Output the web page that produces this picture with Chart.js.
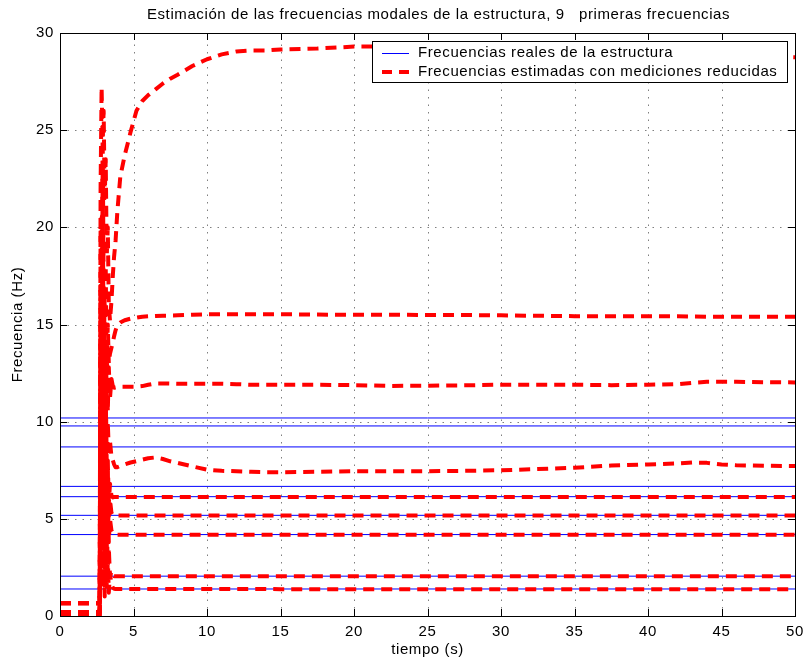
<!DOCTYPE html>
<html>
<head>
<meta charset="utf-8">
<script src="https://cdn.jsdelivr.net/npm/chart.js@4.4.1/dist/chart.umd.min.js"></script>
<style>
html,body{margin:0;padding:0;background:#ffffff;}
#wrap{width:811px;height:664px;}
</style>
</head>
<body>
<div id="wrap"><canvas id="grafico" width="811" height="664"></canvas></div>
<script>
// ---------- DATA ----------
const tiempo = [0, 2.7, 2.76, 2.83, 2.9, 2.97, 3.04, 3.11, 3.18, 3.25, 3.32, 3.4, 3.5, 3.6, 3.68, 3.78,
  3.9, 4.1, 4.4, 4.8, 5.2, 5.6, 6, 6.5, 7, 7.5, 8, 9, 10, 11, 12, 13, 14, 15, 17.5, 20, 22.5, 25, 27.5, 30, 32.5, 35, 37.5, 40, 42, 43, 44, 45, 46, 48, 50];

const estimada1 = [0.65, 0.65, 6.0, 2.0, 9.0, 3.5, 1.0, 5.0, 1.5, 3.0, 1.2, 2.2, 1.6, 1.45, 1.4, 1.39,
  1.39, 1.39, 1.39, 1.39, 1.39, 1.39, 1.39, 1.39, 1.39, 1.39, 1.39, 1.39, 1.39, 1.39, 1.39, 1.39, 1.39, 1.38, 1.38, 1.38, 1.38, 1.38, 1.38, 1.38, 1.38, 1.38, 1.38, 1.38, 1.38, 1.38, 1.38, 1.38, 1.38, 1.38, 1.38];
const estimada2 = [0.65, 0.65, 3.0, 11.0, 5.0, 1.5, 8.0, 2.5, 6.0, 1.8, 3.5, 2.0, 2.3, 2.1, 2.05, 2.05,
  2.05, 2.05, 2.05, 2.05, 2.05, 2.05, 2.05, 2.05, 2.05, 2.05, 2.05, 2.05, 2.05, 2.05, 2.05, 2.05, 2.05, 2.05, 2.04, 2.04, 2.04, 2.04, 2.04, 2.04, 2.04, 2.04, 2.04, 2.04, 2.04, 2.04, 2.04, 2.04, 2.04, 2.04, 2.04];
const estimada3 = [0.2, 0.2, 10.0, 4.0, 14.0, 7.0, 2.5, 9.0, 3.5, 6.5, 3.8, 5.0, 4.4, 4.25, 4.2, 4.18,
  4.18, 4.18, 4.18, 4.18, 4.18, 4.18, 4.18, 4.18, 4.18, 4.18, 4.18, 4.18, 4.18, 4.18, 4.18, 4.18, 4.18, 4.18, 4.18, 4.18, 4.18, 4.18, 4.18, 4.18, 4.18, 4.18, 4.18, 4.18, 4.18, 4.18, 4.18, 4.18, 4.18, 4.18, 4.18];
const estimada4 = [0.2, 0.2, 8.0, 16.5, 6.0, 12.0, 4.0, 10.5, 4.5, 7.5, 5.0, 6.0, 5.3, 5.2, 5.15, 5.17,
  5.17, 5.17, 5.17, 5.17, 5.17, 5.17, 5.17, 5.17, 5.17, 5.17, 5.17, 5.17, 5.17, 5.17, 5.17, 5.17, 5.17, 5.17, 5.17, 5.17, 5.17, 5.17, 5.17, 5.17, 5.17, 5.17, 5.17, 5.17, 5.17, 5.17, 5.17, 5.17, 5.17, 5.17, 5.17];
const estimada5 = [0.1, 0.1, 14.0, 7.0, 18.5, 10.0, 5.0, 12.0, 5.5, 8.0, 5.8, 6.8, 6.2, 6.1, 6.12, 6.12,
  6.12, 6.12, 6.12, 6.12, 6.12, 6.12, 6.12, 6.12, 6.12, 6.12, 6.12, 6.12, 6.12, 6.12, 6.12, 6.12, 6.12, 6.12, 6.12, 6.12, 6.12, 6.12, 6.12, 6.12, 6.12, 6.12, 6.12, 6.12, 6.12, 6.12, 6.12, 6.12, 6.12, 6.12, 6.12];
const estimada6 = [0.0, 0.0, 12.0, 20.5, 11.0, 15.0, 7.5, 13.0, 6.5, 10.0, 8.5, 9.0, 8.2, 8.0, 7.8, 7.65,
  7.66, 7.72, 7.8, 7.9, 7.97, 8.05, 8.12, 8.16, 8.08, 7.96, 7.88, 7.7, 7.53, 7.47, 7.45, 7.42, 7.4, 7.4, 7.42, 7.45, 7.45, 7.45, 7.47, 7.5, 7.56, 7.63, 7.74, 7.8, 7.85, 7.9, 7.88, 7.8, 7.76, 7.73, 7.72];
const estimada7 = [0.2, 0.2, 17.0, 10.0, 23.0, 13.0, 16.5, 9.5, 14.0, 10.5, 12.8, 11.2, 12.2, 11.8, 11.75, 11.76,
  11.78, 11.8, 11.8, 11.8, 11.8, 11.83, 11.9, 11.97, 11.97, 11.96, 11.95, 11.95, 11.95, 11.95, 11.93, 11.9, 11.9, 11.9, 11.9, 11.88, 11.84, 11.85, 11.87, 11.9, 11.9, 11.9, 11.88, 11.9, 11.93, 12.0, 12.05, 12.05, 12.05, 12.03, 12.02];
const estimada8 = [0.0, 0.0, 20.0, 13.0, 25.0, 17.0, 12.0, 18.0, 12.5, 15.0, 13.0, 13.5, 13.8, 14.1, 14.4, 14.7,
  14.95, 15.1, 15.22, 15.3, 15.35, 15.4, 15.42, 15.44, 15.45, 15.46, 15.47, 15.5, 15.52, 15.53, 15.53, 15.53, 15.53, 15.53, 15.51, 15.5, 15.5, 15.49, 15.49, 15.47, 15.45, 15.43, 15.43, 15.43, 15.42, 15.41, 15.4, 15.4, 15.4, 15.4, 15.4];
const estimada9 = [0.65, 0.65, 22.0, 27.2, 24.5, 26.0, 21.5, 23.5, 18.5, 20.0, 16.0, 15.2, 16.2, 17.6, 18.5, 19.3,
  20.8, 22.6, 23.7, 24.9, 26.0, 26.5, 26.8, 27.1, 27.4, 27.65, 27.85, 28.3, 28.65, 28.9, 29.05, 29.1, 29.1, 29.15, 29.2, 29.3, 29.3, 29.25, 29.2, 29.1, 29.05, 29.0, 28.95, 28.9, 28.85, 28.85, 28.8, 28.8, 28.8, 28.78, 28.75];

const estimadas = [estimada1, estimada2, estimada3, estimada4, estimada5, estimada6, estimada7, estimada8, estimada9];
const reales = [1.39, 2.05, 4.19, 5.18, 6.14, 6.67, 8.70, 9.78, 10.19];
const limitesTiempo = [0, 50];

const ticksX = [0, 5, 10, 15, 20, 25, 30, 35, 40, 45, 50];
const ticksY = [0, 5, 10, 15, 20, 25, 30];

const titulo = 'Estimación de las frecuencias modales de la estructura, 9   primeras frecuencias';
const etiquetaX = 'tiempo (s)';
const etiquetaY = 'Frecuencia (Hz)';
const leyenda = ['Frecuencias reales de la estructura', 'Frecuencias estimadas con mediciones reducidas'];

// ---------- STYLE ----------
const ROJO = '#ff0000';
const AZUL = '#0000ff';
const FUENTE = '"Liberation Sans", Arial, Helvetica, sans-serif';
const TAM = 15;
const ESPACIADO = '0.6px';
const DASH = [11, 7];
const GROSOR = 4;

// ---------- DATASETS ----------
const datasets = [];
estimadas.forEach((serie, i) => {
  datasets.push({
    label: leyenda[1] + ' ' + (i + 1),
    data: tiempo.map((t, k) => ({x: t, y: serie[k]})),
    borderColor: ROJO,
    backgroundColor: ROJO,
    borderWidth: GROSOR,
    borderDash: DASH,
    borderCapStyle: 'butt',
    borderJoinStyle: 'round',
    pointRadius: 0,
    fill: false,
    tension: 0,
    clip: 0
  });
});
reales.forEach((f, i) => {
  datasets.push({
    label: leyenda[0] + ' ' + (i + 1),
    data: limitesTiempo.map(t => ({x: t, y: f})),
    borderColor: AZUL,
    backgroundColor: AZUL,
    borderWidth: 1,
    pointRadius: 0,
    fill: false,
    tension: 0,
    clip: 0
  });
});

// ---------- PLUGINS ----------
const espaciado = {
  id: 'espaciado',
  beforeLayout(chart) { chart.ctx.letterSpacing = ESPACIADO; },
  beforeDraw(chart) { chart.ctx.letterSpacing = ESPACIADO; }
};

const marco = {
  id: 'marco',
  beforeDatasetsDraw(chart) {
    const {ctx, chartArea: a, scales: {x, y}} = chart;
    ctx.save();
    ctx.strokeStyle = '#7f7f7f';
    ctx.lineWidth = 1;
    ctx.setLineDash([1.5, 6]);
    ticksX.forEach(v => {
      if (v === x.min || v === x.max) return;
      const px = Math.round(x.getPixelForValue(v)) + 0.5;
      ctx.beginPath(); ctx.moveTo(px, a.bottom); ctx.lineTo(px, a.top); ctx.stroke();
    });
    ticksY.forEach(v => {
      if (v === y.min || v === y.max) return;
      const py = Math.round(y.getPixelForValue(v)) + 0.5;
      ctx.beginPath(); ctx.moveTo(a.left, py); ctx.lineTo(a.right, py); ctx.stroke();
    });
    ctx.restore();
  },
  afterDatasetsDraw(chart) {
    const {ctx, chartArea: a, scales: {x, y}} = chart;
    ctx.save();
    ctx.strokeStyle = '#000000';
    ctx.lineWidth = 1;
    ctx.setLineDash([]);
    const L = 7;
    ticksX.forEach(v => {
      const px = Math.round(x.getPixelForValue(v)) + 0.5;
      ctx.beginPath(); ctx.moveTo(px, a.bottom); ctx.lineTo(px, a.bottom - L); ctx.stroke();
      ctx.beginPath(); ctx.moveTo(px, a.top); ctx.lineTo(px, a.top + L); ctx.stroke();
    });
    ticksY.forEach(v => {
      const py = Math.round(y.getPixelForValue(v)) + 0.5;
      ctx.beginPath(); ctx.moveTo(a.left, py); ctx.lineTo(a.left + L, py); ctx.stroke();
      ctx.beginPath(); ctx.moveTo(a.right, py); ctx.lineTo(a.right - L, py); ctx.stroke();
    });
    ctx.strokeRect(Math.round(a.left) + 0.5, Math.round(a.top) + 0.5,
                   Math.round(a.right - a.left), Math.round(a.bottom - a.top));
    ctx.restore();
  },
  afterDraw(chart) {
    const {ctx, chartArea: a} = chart;
    ctx.save();
    ctx.letterSpacing = ESPACIADO;
    // title
    ctx.fillStyle = '#000000';
    ctx.font = TAM + 'px ' + FUENTE;
    ctx.textBaseline = 'middle';
    ctx.textAlign = 'center';
    ctx.fillText(titulo, (a.left + a.right) / 2 + 11, 15);
    // legend
    const derecha = a.right - 8, izquierda = a.left + 312;
    const arriba = a.top + 8, abajo = a.top + 49;
    ctx.fillStyle = '#ffffff';
    ctx.fillRect(izquierda, arriba, derecha - izquierda, abajo - arriba);
    ctx.strokeStyle = '#000000';
    ctx.lineWidth = 1;
    ctx.setLineDash([]);
    ctx.strokeRect(Math.round(izquierda) + 0.5, Math.round(arriba) + 0.5,
                   Math.round(derecha - izquierda), Math.round(abajo - arriba));
    const y1 = arriba + 12, y2 = arriba + 31;
    const m0 = izquierda + 10, m1 = izquierda + 37;
    ctx.strokeStyle = AZUL; ctx.lineWidth = 1;
    ctx.beginPath(); ctx.moveTo(m0, y1 + 0.5); ctx.lineTo(m1, y1 + 0.5); ctx.stroke();
    ctx.strokeStyle = ROJO; ctx.lineWidth = GROSOR; ctx.setLineDash([10, 7]);
    ctx.beginPath(); ctx.moveTo(m0, y2); ctx.lineTo(m1, y2); ctx.stroke();
    ctx.setLineDash([]);
    ctx.fillStyle = '#000000';
    ctx.textAlign = 'left';
    ctx.fillText(leyenda[0], izquierda + 46, y1);
    ctx.fillText(leyenda[1], izquierda + 46, y2);
    ctx.restore();
  }
};

// ---------- CHART ----------
const fuente = {family: FUENTE, size: TAM};
new Chart(document.getElementById('grafico'), {
  type: 'line',
  data: {datasets},
  options: {
    responsive: false,
    animation: false,
    devicePixelRatio: 1,
    events: [],
    layout: {padding: {left: 0, right: 14, top: 33, bottom: 0}},
    plugins: {
      legend: {display: false},
      tooltip: {enabled: false},
      title: {display: false}
    },
    scales: {
      x: {
        type: 'linear',
        min: 0, max: 50,
        afterBuildTicks: s => { s.ticks = ticksX.map(v => ({value: v})); },
        afterFit: s => { s.height = 48; },
        grid: {display: false, drawTicks: false},
        border: {display: false},
        ticks: {color: '#000000', font: fuente, padding: 7, maxRotation: 0, autoSkip: false},
        title: {display: true, text: etiquetaX, color: '#000000', font: fuente, padding: {top: 0, bottom: 5}}
      },
      y: {
        type: 'linear',
        min: 0, max: 30,
        afterBuildTicks: s => { s.ticks = ticksY.map(v => ({value: v})); },
        afterFit: s => { s.width = 60; },
        grid: {display: false, drawTicks: false},
        border: {display: false},
        ticks: {color: '#000000', font: fuente, padding: 6, autoSkip: false},
        title: {display: true, text: etiquetaY, color: '#000000', font: fuente, padding: {top: 9, bottom: 0}}
      }
    }
  },
  plugins: [espaciado, marco]
});
</script>
</body>
</html>
